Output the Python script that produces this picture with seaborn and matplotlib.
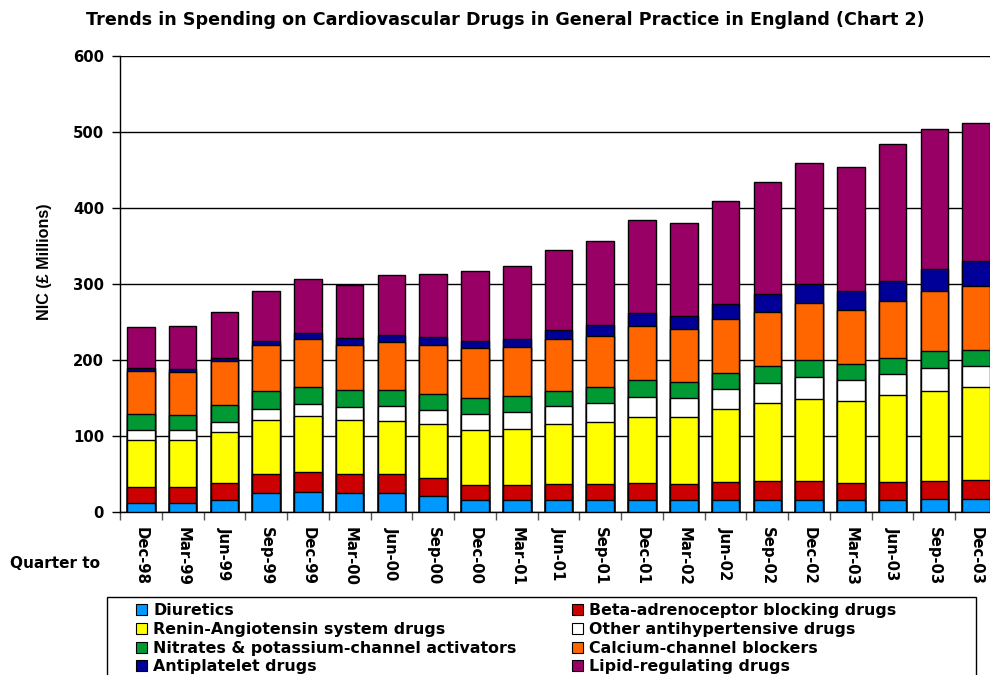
import numpy as np
import pandas as pd
import matplotlib
matplotlib.use("Agg")
import matplotlib.pyplot as plt
from matplotlib.patches import Patch, Rectangle
import seaborn as sns

# ---- data (NIC, £ millions) ----
quarters = ["Dec-98", "Mar-99", "Jun-99", "Sep-99", "Dec-99", "Mar-00", "Jun-00",
            "Sep-00", "Dec-00", "Mar-01", "Jun-01", "Sep-01", "Dec-01", "Mar-02",
            "Jun-02", "Sep-02", "Dec-02", "Mar-03", "Jun-03", "Sep-03", "Dec-03"]

diuretics    = [12, 12, 15, 25, 26, 25, 25, 21, 15, 15, 15, 15, 15, 15, 15, 15, 15, 15, 15, 17, 17]
beta         = [21, 20, 23, 24, 26, 25, 25, 23, 20, 20, 22, 22, 23, 22, 24, 25, 25, 23, 24, 24, 25]
renin        = [62, 63, 67, 72, 74, 71, 70, 71, 72, 74, 78, 81, 87, 88, 96, 103, 109, 108, 114, 118, 122]
other_antihyp = [12, 13, 13, 14, 16, 17, 19, 19, 22, 22, 24, 25, 26, 25, 26, 26, 29, 27, 28, 30, 28]
nitrates     = [21, 19, 22, 24, 22, 22, 21, 21, 21, 21, 20, 21, 23, 21, 21, 23, 22, 21, 22, 22, 21]
calcium      = [57, 57, 58, 60, 64, 60, 64, 65, 65, 65, 68, 67, 70, 69, 72, 71, 75, 72, 75, 79, 84]
antiplatelet = [4, 4.5, 5, 6, 7, 9, 9, 10, 10, 11, 12, 15, 17, 18, 20, 23, 25, 24, 26, 29, 33]
lipid        = [54, 56, 60, 66, 71, 70, 78, 83, 92, 96, 105, 111, 123, 122, 135, 148, 159, 164, 180, 185, 182]

series_names = ["Diuretics", "Beta-adrenoceptor blocking drugs",
                "Renin-Angiotensin system drugs", "Other antihypertensive drugs",
                "Nitrates & potassium-channel activators", "Calcium-channel blockers",
                "Antiplatelet drugs", "Lipid-regulating drugs"]
series_values = [diuretics, beta, renin, other_antihyp, nitrates, calcium, antiplatelet, lipid]
series_colors = ["#0099FF", "#CC0000", "#FFFF00", "#FFFFFF",
                 "#009933", "#FF6600", "#000099", "#990066"]

title = "Trends in Spending on Cardiovascular Drugs in General Practice in England (Chart 2)"
y_ticks = [0, 100, 200, 300, 400, 500, 600]

# ---- figure ----
sns.set_style("white")
plt.rcParams["font.family"] = ["DejaVu Sans"]
plt.rcParams["font.weight"] = "bold"
plt.rcParams["text.color"] = "black"
plt.rcParams["axes.labelcolor"] = "black"
plt.rcParams["xtick.color"] = "black"
plt.rcParams["ytick.color"] = "black"

W, H = 990, 675
fig = plt.figure(figsize=(W / 100, H / 100), dpi=100)
ax_left, ax_right, ax_top, ax_bottom = 120, 997, 56, 511.7
ax = fig.add_axes([ax_left / W, (H - ax_bottom) / H,
                   (ax_right - ax_left) / W, (ax_bottom - ax_top) / H])

df = pd.DataFrame({"quarter": quarters})
cum = np.zeros(len(quarters))
cums = []
for vals in series_values:
    cum = cum + np.array(vals, dtype=float)
    cums.append(cum.copy())

# draw cumulative totals from the top series down so each layer shows its segment
for name, c, color in reversed(list(zip(series_names, cums, series_colors))):
    d = df.assign(value=c)
    sns.barplot(data=d, x="quarter", y="value", color=color, saturation=1,
                width=0.66, edgecolor="black", linewidth=1.0, ax=ax, zorder=3)

ax.set_xlim(-0.5, len(quarters) - 0.5)
ax.set_ylim(0, 600)
ax.set_yticks(y_ticks)
ax.set_yticklabels([str(t) for t in y_ticks], fontsize=10.7, fontweight="bold",
                   color="black")
ax.yaxis.grid(True, color="black", linewidth=1.0, zorder=0)
ax.xaxis.grid(False)
ax.set_axisbelow(True)

ax.set_xticks(np.arange(len(quarters)))
ax.set_xticklabels(quarters, rotation=270, fontsize=10.7, fontweight="bold",
                   va="top", ha="center", color="black")
ax.set_xticks(np.arange(-0.5, len(quarters), 1.0), minor=True)
ax.tick_params(axis="x", which="major", length=0, pad=11)
ax.tick_params(axis="x", which="minor", length=6, width=1, color="#555555",
               direction="out", bottom=True)
ax.tick_params(axis="y", which="major", length=6, width=1, color="black",
               direction="out", left=True, pad=5.5)
ax.set_xlabel("")
ax.set_ylabel("")

for s in ["top", "right"]:
    ax.spines[s].set_visible(False)
for s in ["left", "bottom"]:
    ax.spines[s].set_color("black")
    ax.spines[s].set_linewidth(1.0)

fig.text(505 / W, 1 - 20 / H, title, ha="center", va="center",
         fontsize=12.6, fontweight="bold", color="black")
fig.text(44 / W, 1 - 262 / H, "NIC (£ Millions)", rotation=90,
         ha="center", va="center", fontsize=11.6, fontweight="bold",
         family=["Liberation Sans", "DejaVu Sans"], color="black")
fig.text(55 / W, 1 - 563 / H, "Quarter to", ha="center", va="center",
         fontsize=11, fontweight="bold", color="black")

# legend (row-wise order as in the reference: two columns)
order = [0, 2, 4, 6, 1, 3, 5, 7]
handles = [Patch(facecolor=series_colors[i], edgecolor="black", linewidth=0.8) for i in order]
labels = [series_names[i] for i in order]
leg = fig.legend(handles, labels, ncol=2, loc="upper left",
                 bbox_to_anchor=(136 / W, 1 - 603 / H), bbox_transform=fig.transFigure,
                 frameon=False, prop={"size": 11.4, "weight": "bold"},
                 handlelength=0.7, handleheight=0.7, handletextpad=0.4,
                 columnspacing=3.47, labelspacing=0.24, borderpad=0, borderaxespad=0)
for t in leg.get_texts():
    t.set_color("black")
fig.add_artist(Rectangle((107 / W, -0.1), (976 - 107) / W, (H - 597) / H + 0.1,
                         transform=fig.transFigure, fill=False,
                         edgecolor="black", linewidth=1.0))

fig.savefig("out.png", dpi=100)
